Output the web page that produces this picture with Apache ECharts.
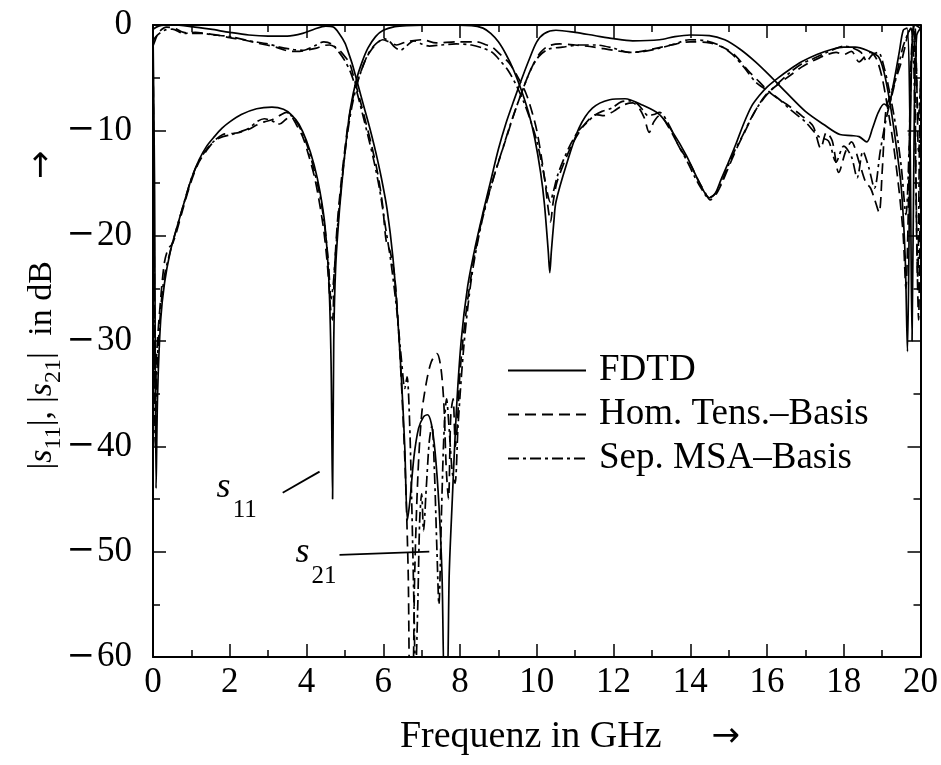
<!DOCTYPE html>
<html><head><meta charset="utf-8">
<script src="https://cdn.jsdelivr.net/npm/echarts@6/dist/echarts.min.js"></script>
<style>html,body{margin:0;padding:0;background:#fff}#c{width:941px;height:765px}</style>
</head><body><div id="c"></div>
<script>
// ---------- data (frequency in GHz, magnitude in dB) ----------
const legendNames = ['FDTD', 'Hom. Tens.–Basis', 'Sep. MSA–Basis'];
const xTickValues = [0, 2, 4, 6, 8, 10, 12, 14, 16, 18, 20];
const yTickValues = [0, -10, -20, -30, -40, -50, -60];

const fdtdS21 = [[0,-0.4],[0.15,-0.1],[0.5,0],[1,-0.15],[1.5,-0.4],[2,-0.7],[2.5,-0.95],[3,-1.05],[3.5,-1.05],[3.9,-0.8],[4.2,-0.4],[4.5,-0.1],[4.7,-0.2],[4.85,-0.8],[5.0,-1.7],[5.1,-2.7],[5.2,-3.8],[5.35,-5.8],[5.5,-7.8],[5.65,-9.8],[5.8,-12],[5.95,-14.5],[6.1,-17.5],[6.25,-22],[6.38,-28],[6.48,-34],[6.56,-40],[6.63,-47],[6.7,-45],[6.8,-41],[6.92,-38.3],[7.05,-37.2],[7.15,-37],[7.25,-37.8],[7.35,-40.5],[7.45,-45.5],[7.53,-52],[7.6,-63],[7.66,-63],[7.72,-52],[7.8,-45],[7.9,-37],[8.03,-30],[8.2,-24.8],[8.4,-21],[8.6,-17.8],[8.8,-14.8],[9.0,-11.8],[9.2,-9.3],[9.4,-7.2],[9.6,-5.2],[9.8,-3.3],[10.0,-1.6],[10.2,-0.8],[10.5,-0.5],[11,-0.7],[11.5,-1.0],[12,-1.3],[12.5,-1.5],[13.2,-1.4],[13.6,-1.1],[14,-0.95],[14.5,-1.0],[14.9,-1.4],[15.3,-2.3],[15.7,-3.5],[16.1,-4.9],[16.5,-6.4],[17,-8.2],[17.5,-9.5],[17.9,-10.4],[18.2,-10.5],[18.4,-10.6],[18.6,-11.1],[18.75,-9.8],[18.9,-8.3],[19.05,-7.5],[19.15,-7.7],[19.3,-5.5],[19.45,-2.5],[19.55,-0.5],[19.65,-0.3],[19.72,-8],[19.78,-30],[19.84,-8],[19.9,-1],[20,-0.3]];

const fdtdS11 = [[0,-0.5],[0.04,-15],[0.08,-44],[0.12,-35],[0.2,-28],[0.3,-24.5],[0.45,-21.5],[0.6,-19.5],[0.8,-17],[1.0,-14.6],[1.2,-12.8],[1.4,-11.5],[1.6,-10.6],[1.8,-9.8],[2.0,-9.2],[2.3,-8.5],[2.7,-7.95],[3.1,-7.8],[3.4,-8.0],[3.6,-8.5],[3.8,-9.4],[4.0,-11.0],[4.2,-13.3],[4.35,-15.8],[4.48,-19],[4.58,-24],[4.64,-32],[4.68,-45],[4.71,-30],[4.76,-23],[4.85,-18],[4.95,-14],[5.05,-10.5],[5.15,-7.8],[5.3,-5.2],[5.45,-3.5],[5.6,-2.2],[5.8,-1.1],[6.0,-0.5],[6.3,-0.15],[6.6,-0.05],[7.5,0],[8.3,-0.05],[8.6,-0.3],[8.8,-0.8],[9.0,-1.6],[9.2,-2.8],[9.4,-4.3],[9.6,-6.2],[9.8,-8.5],[9.95,-10.8],[10.1,-14],[10.2,-17],[10.3,-21.5],[10.34,-23.5],[10.38,-21.5],[10.45,-18.5],[10.5,-16.8],[10.77,-13.3],[11.1,-9.8],[11.45,-7.9],[11.9,-7.1],[12.3,-7.0],[12.75,-7.6],[13.2,-8.5],[13.53,-10.1],[13.9,-12.4],[14.23,-14.9],[14.5,-16.4],[14.65,-16],[14.8,-14.7],[15.0,-13],[15.2,-11.2],[15.4,-9.3],[15.6,-7.7],[15.8,-6.7],[16.0,-5.9],[16.3,-5.0],[16.6,-4.2],[16.9,-3.5],[17.3,-2.8],[17.7,-2.3],[18.0,-2.1],[18.3,-2.1],[18.6,-2.4],[18.9,-3.0],[19.05,-4.5],[19.2,-7.3],[19.35,-11],[19.5,-15.5],[19.6,-22],[19.66,-31],[19.72,-14],[19.78,-2],[19.85,0],[20,-0.3]];

const homS21 = [[0,-2],[0.05,-1.5],[0.15,-0.7],[0.35,-0.2],[0.55,-0.3],[0.8,-0.7],[1.05,-0.8],[1.3,-0.8],[1.66,-0.95],[2.0,-1.2],[2.34,-1.4],[2.7,-1.7],[2.96,-1.9],[3.2,-2.1],[3.4,-2.35],[3.6,-2.5],[3.82,-2.5],[4.05,-2.35],[4.26,-2.2],[4.45,-1.95],[4.6,-1.9],[4.75,-2.1],[4.86,-2.4],[5.0,-3.0],[5.12,-3.6],[5.25,-5.2],[5.4,-7.2],[5.55,-9.3],[5.7,-11.5],[5.85,-14],[5.98,-17],[6.08,-20.6],[6.18,-21.5],[6.3,-24],[6.4,-29],[6.5,-36],[6.58,-43],[6.65,-52],[6.7,-63],[6.76,-63],[6.82,-52],[6.9,-43],[7.0,-37],[7.12,-34],[7.25,-32],[7.4,-31.2],[7.5,-32.5],[7.58,-36],[7.64,-42],[7.7,-45],[7.76,-37],[7.82,-35.5],[7.88,-40],[7.93,-38],[8.0,-33],[8.15,-27.5],[8.35,-22.5],[8.6,-18],[8.9,-14.2],[9.2,-10.8],[9.45,-8],[9.7,-5.5],[9.9,-3.8],[10.1,-2.6],[10.3,-2.0],[10.6,-1.8],[11.0,-1.9],[11.5,-2.1],[12.0,-2.4],[12.5,-2.6],[13.0,-2.3],[13.5,-1.9],[14.0,-1.6],[14.5,-1.7],[14.9,-2.2],[15.2,-3.0],[15.5,-4.3],[15.8,-5.4],[16.1,-6.5],[16.5,-7.5],[16.9,-8.6],[17.2,-9.6],[17.4,-11.7],[17.55,-10.2],[17.7,-11],[17.87,-14],[18.05,-12],[18.2,-11.1],[18.4,-13],[18.57,-14.9],[18.7,-15.5],[18.8,-16.5],[18.92,-17.8],[19.0,-14],[19.1,-8],[19.2,-6.8],[19.35,-5.2],[19.5,-3.5],[19.6,-2],[19.7,-0.5],[19.8,0],[19.85,-5],[19.9,-20],[19.95,-28],[20,-10]];

const homS11 = [[0,-1],[0.03,-20],[0.06,-36],[0.1,-31],[0.2,-26],[0.3,-22.5],[0.4,-21.2],[0.5,-20.8],[0.6,-19.8],[0.8,-17.2],[1.0,-14.8],[1.2,-13.0],[1.4,-11.9],[1.6,-11.0],[1.82,-10.4],[2.05,-10.3],[2.26,-10.2],[2.5,-9.9],[2.7,-9.5],[2.9,-9.2],[3.1,-9.0],[3.3,-8.6],[3.48,-8.3],[3.6,-8.6],[3.74,-9.5],[3.9,-10.6],[4.05,-12.3],[4.2,-14.3],[4.32,-16.5],[4.45,-19.5],[4.55,-23],[4.63,-27],[4.68,-28],[4.72,-24],[4.8,-19],[4.9,-15],[5.0,-11.8],[5.1,-9],[5.25,-6.3],[5.4,-4.6],[5.55,-3.2],[5.7,-2.3],[5.85,-1.7],[5.98,-1.4],[6.15,-1.6],[6.35,-1.9],[6.6,-1.6],[7.02,-1.4],[7.38,-1.7],[7.9,-1.6],[8.43,-1.6],[8.7,-1.9],[8.84,-2.1],[9.05,-2.8],[9.28,-3.6],[9.5,-4.9],[9.72,-6.5],[9.88,-8.3],[10.0,-10],[10.12,-12.5],[10.22,-15],[10.3,-17.5],[10.36,-18.7],[10.42,-17],[10.52,-15],[10.7,-13.2],[10.9,-11.5],[11.1,-10.2],[11.35,-9],[11.55,-8.5],[11.75,-8.6],[12.0,-8.2],[12.25,-7.6],[12.5,-7.4],[12.65,-7.8],[12.8,-8.8],[12.93,-10.2],[13.05,-9.2],[13.2,-8.6],[13.45,-9.8],[13.75,-11.8],[14.0,-13.2],[14.2,-14.7],[14.4,-16],[14.52,-16.6],[14.65,-16.2],[14.8,-15.2],[15.0,-13.5],[15.2,-11.8],[15.4,-10.3],[15.6,-8.8],[15.8,-7.5],[16.0,-6.5],[16.3,-5.6],[16.6,-4.8],[16.9,-4.0],[17.2,-3.4],[17.5,-2.9],[17.8,-2.6],[18.0,-2.8],[18.2,-2.5],[18.4,-3.5],[18.55,-3.0],[18.7,-2.6],[18.85,-3.2],[19.0,-5],[19.15,-8],[19.3,-11.5],[19.45,-16],[19.55,-20],[19.62,-25],[19.68,-18],[19.74,-5],[19.8,-0.5],[19.85,0],[19.9,-5],[19.95,-12],[20,-10]];

const sepS21 = [[0,-1.5],[0.1,-1.0],[0.3,-0.5],[0.5,-0.4],[0.8,-0.8],[1.1,-0.7],[1.5,-0.9],[2.0,-1.1],[2.5,-1.5],[3.0,-1.8],[3.3,-2.1],[3.6,-2.3],[3.9,-2.4],[4.2,-2.0],[4.45,-1.6],[4.65,-1.8],[4.85,-2.6],[5.0,-3.4],[5.15,-4.5],[5.3,-6.2],[5.45,-8.3],[5.6,-10.5],[5.75,-12.8],[5.9,-15.5],[6.05,-19],[6.2,-22.5],[6.35,-27],[6.48,-32],[6.56,-34.5],[6.62,-33.4],[6.68,-37],[6.74,-45],[6.8,-55],[6.84,-62],[6.9,-55],[6.95,-47],[7.0,-44.5],[7.05,-48],[7.12,-44],[7.2,-39.5],[7.27,-38],[7.33,-42],[7.4,-50],[7.45,-55],[7.52,-46],[7.58,-39],[7.65,-35.5],[7.72,-38.5],[7.8,-42.5],[7.87,-43.5],[7.95,-38],[8.1,-30.5],[8.3,-24],[8.55,-19],[8.85,-14.8],[9.15,-11.3],[9.4,-8.5],[9.65,-6],[9.85,-4.2],[10.05,-3.0],[10.3,-2.3],[10.67,-2.1],[11.1,-1.9],[11.55,-1.9],[12.0,-2.2],[12.4,-2.6],[12.8,-2.5],[13.2,-2.2],[13.6,-1.8],[13.97,-1.4],[14.4,-1.5],[14.8,-2.0],[15.1,-2.8],[15.4,-4.0],[15.7,-5.4],[16.0,-6.2],[16.3,-7.0],[16.6,-8.0],[17.0,-9.2],[17.35,-10.6],[17.6,-11],[17.8,-13],[18.0,-11.5],[18.2,-12.5],[18.35,-14.5],[18.5,-12],[18.65,-13.5],[18.8,-15.5],[18.95,-12],[19.1,-9],[19.3,-6],[19.45,-3.5],[19.55,-2],[19.65,-1],[19.75,-0.3],[19.82,-3],[19.88,-15],[19.93,-24],[19.97,-12],[20,-5]];

const sepS11 = [[0,-1.5],[0.03,-25],[0.06,-40],[0.1,-33],[0.2,-27],[0.3,-23.8],[0.45,-21.5],[0.6,-19.5],[0.8,-17],[1.0,-14.6],[1.2,-12.9],[1.4,-11.8],[1.6,-11.0],[1.82,-10.6],[2.05,-10.4],[2.3,-10.1],[2.5,-9.8],[2.7,-9.2],[2.9,-8.9],[3.1,-9.1],[3.3,-9.4],[3.45,-9.0],[3.6,-8.6],[3.74,-9.2],[3.9,-10.3],[4.05,-11.8],[4.2,-13.8],[4.35,-16.2],[4.47,-19],[4.57,-22.5],[4.64,-26],[4.7,-24.5],[4.77,-21],[4.86,-17],[4.96,-13.5],[5.06,-10.5],[5.18,-7.8],[5.32,-5.6],[5.46,-4.0],[5.6,-2.8],[5.75,-2.0],[5.9,-1.5],[6.0,-1.3],[6.15,-1.5],[6.3,-2.1],[6.45,-2.4],[6.6,-2.0],[6.8,-1.5],[7.0,-1.8],[7.2,-2.0],[7.5,-1.9],[7.9,-1.8],[8.3,-1.9],[8.6,-2.2],[8.84,-2.6],[9.05,-3.4],[9.25,-4.3],[9.45,-5.6],[9.65,-7.2],[9.85,-9.2],[10.0,-11],[10.15,-13.5],[10.28,-16],[10.35,-16.8],[10.42,-16],[10.55,-14.2],[10.72,-12.6],[10.9,-11.2],[11.1,-10],[11.3,-9.3],[11.5,-8.6],[11.7,-8.2],[11.95,-7.9],[12.2,-7.3],[12.45,-7.2],[12.6,-7.4],[12.75,-8.0],[12.9,-8.6],[13.05,-8.5],[13.2,-8.3],[13.45,-9.5],[13.7,-11.5],[13.9,-12.8],[14.1,-14.3],[14.3,-15.6],[14.48,-16.4],[14.6,-16.2],[14.75,-15.5],[14.95,-13.7],[15.15,-12],[15.35,-10.6],[15.55,-9.1],[15.75,-7.8],[16.0,-6.6],[16.3,-5.5],[16.6,-4.5],[16.9,-3.7],[17.2,-3.2],[17.5,-2.7],[17.75,-2.3],[18.0,-2.0],[18.25,-2.2],[18.45,-2.6],[18.6,-3.4],[18.75,-2.8],[18.9,-2.6],[19.05,-4],[19.2,-6.5],[19.35,-9.5],[19.5,-13.5],[19.62,-18],[19.7,-12],[19.76,-4],[19.82,0],[19.88,-3],[19.94,-9],[20,-6]];

// annotation anchors (data coordinates)
const labelS11 = {sub: '11', at: [2.18, -43.9], lineFrom: [3.38, -44.4], lineTo: [4.34, -42.4]};
const labelS21 = {sub: '21', at: [4.25, -50.1], lineFrom: [4.86, -50.3], lineTo: [7.2, -50.0]};

// ---------- chart ----------
const FONT = 'Liberation Serif, Times New Roman, serif';
const dashes = ['solid', [11, 6], [11, 4, 3, 4]];
function mkSeries(nameIdx, data) {
  return {
    name: legendNames[nameIdx], type: 'line', data: data, symbol: 'none', showSymbol: false,
    smooth: 0.3, clip: true, animation: false,
    lineStyle: {color: '#000', width: 1.7, type: dashes[nameIdx]},
    itemStyle: {color: '#000'}
  };
}
const minusRich = v => (v < 0 ? '{m|\u2212}{d|' + (-v) + '}' : '{d|' + v + '}');
const labelRich = {
  m: {fontFamily: 'DejaVu Serif', fontSize: 34, color: '#000', padding: [0, 2, 0, 0]},
  d: {fontFamily: FONT, fontSize: 35, color: '#000'}
};
const tickCommon = {
  axisLine: {show: true, onZero: false, lineStyle: {color: '#000', width: 2}},
  axisTick: {show: true, inside: true, length: 13, lineStyle: {color: '#000', width: 1.5}},
  minorTick: {show: true, splitNumber: 2, length: 7, lineStyle: {color: '#000', width: 1.5}},
  splitLine: {show: false}
};
const chart = echarts.init(document.getElementById('c'), null, {renderer: 'canvas'});
chart.setOption({
  animation: false,
  backgroundColor: '#fff',
  grid: {left: 153, right: 19, top: 25, bottom: 108, containLabel: false},
  xAxis: [
    Object.assign({type: 'value', min: xTickValues[0], max: xTickValues[xTickValues.length - 1], interval: 2, position: 'bottom',
      axisLabel: {margin: 8, formatter: minusRich, rich: labelRich}}, tickCommon),
    Object.assign({type: 'value', min: 0, max: 20, interval: 2, position: 'top', axisLabel: {show: false}}, tickCommon)
  ],
  yAxis: [
    Object.assign({type: 'value', min: yTickValues[yTickValues.length - 1], max: yTickValues[0], interval: 10, position: 'left',
      axisLabel: {margin: 21, formatter: minusRich, rich: labelRich}}, tickCommon),
    Object.assign({type: 'value', min: -60, max: 0, interval: 10, position: 'right', axisLabel: {show: false}}, tickCommon)
  ],
  legend: {
    data: legendNames, orient: 'vertical', left: 507, top: 352,
    itemWidth: 78, itemHeight: 14, itemGap: 7, padding: 0,
    itemStyle: {opacity: 0, borderWidth: 0},
    textStyle: {fontFamily: FONT, fontSize: 37, color: '#000', lineHeight: 36, padding: [0, 0, 0, 8]},
    selectedMode: false
  },
  series: [
    mkSeries(0, fdtdS21), mkSeries(0, fdtdS11),
    mkSeries(1, homS21), mkSeries(1, homS11),
    mkSeries(2, sepS21), mkSeries(2, sepS11)
  ]
});

function px(p) { return chart.convertToPixel({xAxisIndex: 0, yAxisIndex: 0}, p); }
function annot(lbl) {
  const a = px(lbl.at), f = px(lbl.lineFrom), t = px(lbl.lineTo);
  return [
    {type: 'line', shape: {x1: f[0], y1: f[1], x2: t[0], y2: t[1]}, style: {stroke: '#000', lineWidth: 1.8}, z: 100},
    {type: 'text', x: a[0], y: a[1], z: 100,
      style: {text: '{i|s}{sb|' + lbl.sub + '}', align: 'center', verticalAlign: 'middle', textAlign: 'center', textVerticalAlign: 'middle',
        rich: {
          i: {fontFamily: FONT, fontSize: 36, fontStyle: 'italic', fill: '#000', color: '#000', verticalAlign: 'middle', lineHeight: 72},
          sb: {fontFamily: FONT, fontSize: 25, fill: '#000', color: '#000', verticalAlign: 'bottom', lineHeight: 72, padding: [0, 0, 0, 2]}
        }}}
  ];
}
const richY = {
  n: {fontFamily: FONT, fontSize: 34, fill: '#000', color: '#000', verticalAlign: 'middle', lineHeight: 48},
  x: {fontFamily: FONT, fontSize: 38, fill: '#000', color: '#000', verticalAlign: 'middle', lineHeight: 48},
  i: {fontFamily: FONT, fontSize: 34, fontStyle: 'italic', fill: '#000', color: '#000', verticalAlign: 'middle', lineHeight: 48},
  sb: {fontFamily: FONT, fontSize: 24, fill: '#000', color: '#000', verticalAlign: 'bottom', lineHeight: 48},
  a: {fontFamily: 'DejaVu Sans', fontSize: 34, fill: '#000', color: '#000', verticalAlign: 'middle', lineHeight: 48},
  g: {width: 50, lineHeight: 48},
  gy: {width: 82, lineHeight: 48},
  g2: {width: 8, lineHeight: 48}
};
chart.setOption({
  graphic: [].concat(annot(labelS11), annot(labelS21), [
    {type: 'text', x: 42, y: 310, rotation: Math.PI / 2, z: 100,
      style: {text: '{n||}{i|s}{sb|11}{n||,}{g2| }{n||}{i|s}{sb|21}{n||}{g2| }{n| in dB}{gy| }{a|\u2192}',
        align: 'center', verticalAlign: 'middle', textAlign: 'center', textVerticalAlign: 'middle', rich: richY}},
    {type: 'text', x: 570, y: 737, z: 100,
      style: {text: '{x|Frequenz in GHz}{g| }{a|\u2192}',
        align: 'center', verticalAlign: 'middle', textAlign: 'center', textVerticalAlign: 'middle', rich: richY}}
  ])
});
</script>
</body></html>
